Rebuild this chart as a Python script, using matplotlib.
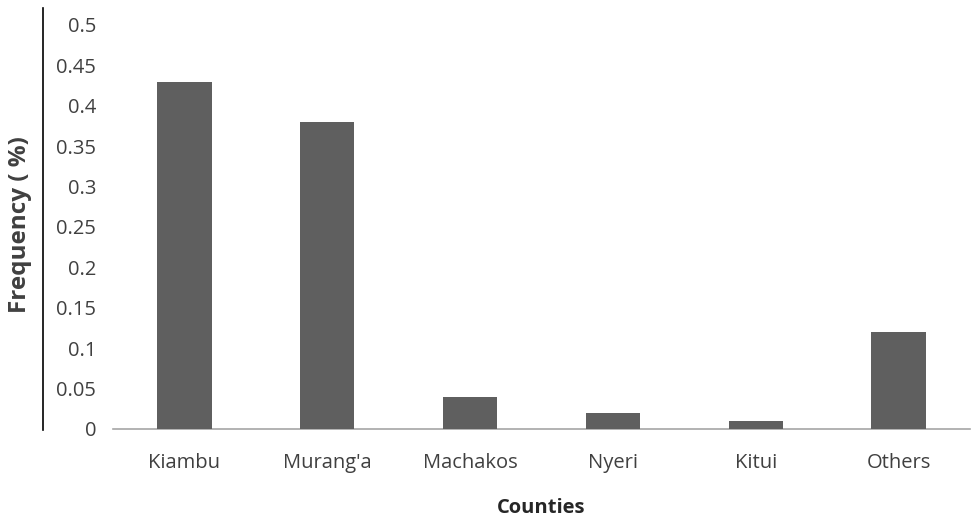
import matplotlib
matplotlib.use("Agg")
import matplotlib.pyplot as plt
from matplotlib.lines import Line2D

counties = ["Kiambu", "Murang'a", "Machakos", "Nyeri", "Kitui", "Others"]
frequency = [0.43, 0.38, 0.04, 0.02, 0.01, 0.12]
y_ticks = [0, 0.05, 0.1, 0.15, 0.2, 0.25, 0.3, 0.35, 0.4, 0.45, 0.5]
y_tick_labels = ["0", "0.05", "0.1", "0.15", "0.2", "0.25", "0.3", "0.35", "0.4", "0.45", "0.5"]

plt.rcParams["font.family"] = ["Open Sans", "DejaVu Sans"]

W, H = 973, 519
fig = plt.figure(figsize=(W / 100, H / 100), dpi=100)
ax = fig.add_axes([113 / W, 1 - 429 / H, (970 - 113) / W, (429 - 25) / H])

x = range(len(counties))
ax.bar(x, frequency, width=0.38, color="#5f5f5f", zorder=3)

ax.set_xlim(-0.5, len(counties) - 0.5)
ax.set_ylim(0, 0.5)
ax.set_yticks(y_ticks)
ax.set_yticklabels(y_tick_labels)
ax.set_xticks(list(x))
ax.set_xticklabels(counties)

for s in ["top", "right", "left"]:
    ax.spines[s].set_visible(False)
ax.spines["bottom"].set_color("#a6a6a6")
ax.spines["bottom"].set_linewidth(1.2)

ax.tick_params(axis="both", length=0, labelsize=14.5, colors="#404040")
ax.tick_params(axis="y", pad=12)
ax.tick_params(axis="x", pad=17)

ax.set_xlabel("Counties", fontsize=14.5, fontweight="bold", color="#262626", labelpad=18)
fig.text(20 / W, 1 - 225 / H, "Frequency ( %)", rotation=90, fontsize=17.5,
         fontweight="bold", color="#404040", ha="center", va="center")

# vertical rule to the left of the tick labels
fig.add_artist(Line2D([43 / W, 43 / W], [1 - 8 / H, 1 - 430 / H],
                      transform=fig.transFigure, color="black", linewidth=1.2))

fig.savefig("out.png", dpi=100)
